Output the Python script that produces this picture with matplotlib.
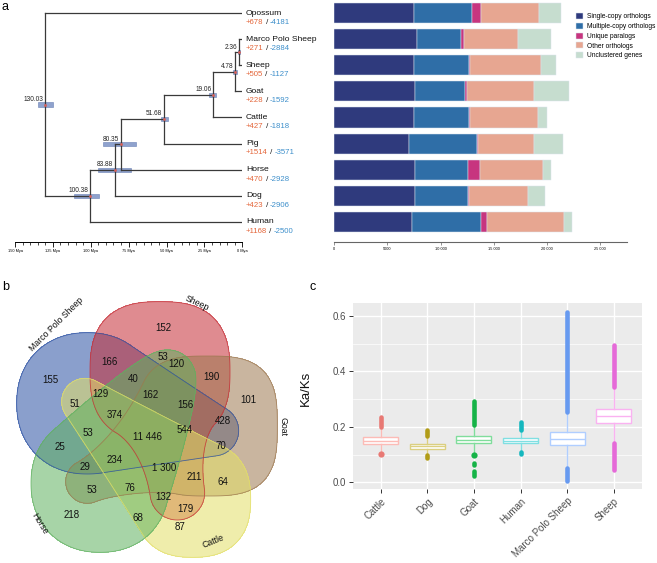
import numpy as np
import matplotlib
matplotlib.use("Agg")
import matplotlib.pyplot as plt
import matplotlib.colors as mcolors
from matplotlib.ticker import MultipleLocator, FixedLocator

plt.rcParams['font.family'] = ['Liberation Sans', 'DejaVu Sans']

# ---------------- data: panel a (tree) ----------------
species = ["Opossum", "Marco Polo Sheep", "Sheep", "Goat", "Cattle", "Pig", "Horse", "Dog", "Human"]
gained = [678, 271, 505, 228, 427, 1514, 470, 423, 1168]
lost = [4181, 2884, 1127, 1592, 1818, 3571, 2928, 2906, 2500]

node_names = ["n1", "n2", "n3", "n4", "n5", "n6", "n7", "n8"]
node_children = [("Marco Polo Sheep", "Sheep"), ("n1", "Goat"), ("n2", "Cattle"), ("n3", "Pig"),
                 ("n4", "Horse"), ("n5", "Dog"), ("n6", "Human"), ("Opossum", "n7")]
node_ages = [2.36, 4.78, 19.06, 51.68, 80.35, 83.88, 100.38, 130.03]
node_hpd_low = [1.5, 3.7, 17.4, 48.8, 70.4, 73.7, 94.6, 124.7]
node_hpd_high = [2.9, 5.9, 21.8, 53.7, 91.7, 95.0, 111.1, 134.6]
time_ticks = [150, 125, 100, 75, 50, 25, 0]

# ---------------- data: panel a (gene families) ----------------
category_names = ["Single-copy orthologs", "Multiple-copy orthologs", "Unique paralogs",
                  "Other orthologs", "Unclustered genes"]
single_copy = [7500, 7810, 7500, 7590, 7530, 7060, 7590, 7590, 7310]
multi_copy = [5460, 4110, 5180, 4740, 5150, 6340, 4960, 4960, 6490]
unique_paralogs = [880, 250, 90, 130, 90, 90, 1160, 90, 530]
other_orthologs = [5430, 5110, 6680, 6300, 6430, 5300, 5930, 5550, 7280]
unclustered = [2070, 3110, 1440, 3360, 780, 2760, 720, 1630, 720]
bar_ticks = [0, 5000, 10000, 15000, 20000, 25000]
bar_tick_labels = ["0", "5000", "10 000", "15 000", "20 000", "25 000"]

# ---------------- data: panel b (Venn) ----------------
venn_sets = ["Marco Polo Sheep", "Sheep", "Goat", "Cattle", "Horse"]
venn_counts = [155, 152, 101, 87, 218, 166, 53, 120, 190, 40, 129, 51, 162, 156, 374,
               428, 544, 11446, 53, 70, 25, 234, 29, 1300, 211, 64, 53, 76, 132, 179, 68]

# ---------------- data: panel c (Ka/Ks) ----------------
box_species = ["Cattle", "Dog", "Goat", "Human", "Marco Polo Sheep", "Sheep"]
box_q1 = [0.138, 0.120, 0.141, 0.141, 0.133, 0.215]
box_med = [0.149, 0.130, 0.154, 0.150, 0.158, 0.240]
box_q3 = [0.162, 0.140, 0.169, 0.161, 0.183, 0.265]
box_whislo = [0.110, 0.100, 0.105, 0.115, 0.060, 0.145]
box_whishi = [0.192, 0.165, 0.200, 0.185, 0.250, 0.338]
outlier_ranges = [[(0.198, 0.234)], [(0.168, 0.189), (0.087, 0.097)],
                  [(0.206, 0.294), (0.064, 0.071), (0.023, 0.040)],
                  [(0.190, 0.217), (0.102, 0.110)],
                  [(0.254, 0.613), (0.004, 0.051)], [(0.343, 0.496), (0.045, 0.141)]]
outlier_points = [[0.101], [], [0.098], [], [], []]

# ---------------- figure ----------------
W, H = 657, 563
fig = plt.figure(figsize=(W / 100, H / 100), dpi=100)


def px_axes(x0, y0, x1, y1):
    return fig.add_axes([x0 / W, 1 - y1 / H, (x1 - x0) / W, (y1 - y0) / H])


ROW0, ROWSTEP, AXB = 13.3, 26.05, 242.3
ylim_rows = ((AXB - ROW0) / ROWSTEP, -ROW0 / ROWSTEP)

# ---- tree ----
ax_t = px_axes(15, 0, 242.3, AXB)
ax_t.set_xlim(150, 0)
ax_t.set_ylim(*ylim_rows)
ypos = {sp: i for i, sp in enumerate(species)}
xpos = {sp: 0.0 for sp in species}
lc = '#3a3a3a'
for name, (ca, cb), age in zip(node_names, node_children, node_ages):
    ax_t.plot([age, age], [ypos[ca], ypos[cb]], color=lc, lw=0.9, zorder=3)
    for ch in (ca, cb):
        ax_t.plot([age, xpos[ch]], [ypos[ch], ypos[ch]], color=lc, lw=0.9, zorder=3)
    ypos[name] = (ypos[ca] + ypos[cb]) / 2
    xpos[name] = age

node_y = [ypos[n] for n in node_names]
ax_t.barh(node_y, np.array(node_hpd_high) - np.array(node_hpd_low), left=node_hpd_low,
          height=0.16, color='#8fa2cd', edgecolor='#6a80b5', lw=0.4, zorder=2)
ax_t.plot(node_ages, node_y, 'o', color='#d9605a', ms=2.0, mew=0, zorder=4)
for age, y in zip(node_ages, node_y):
    ax_t.annotate(f"{age:.2f}", (age, y), xytext=(-1.3, 1.3), textcoords='offset points',
                  ha='right', va='bottom', fontsize=4.7, color='#222222')
for s in ('left', 'right', 'top'):
    ax_t.spines[s].set_visible(False)
ax_t.spines['bottom'].set_linewidth(0.7)
ax_t.set_yticks([])
ax_t.xaxis.set_major_locator(FixedLocator(time_ticks))
ax_t.set_xticklabels([f"{v} Mya" for v in time_ticks])
ax_t.xaxis.set_minor_locator(MultipleLocator(5))
ax_t.tick_params(axis='x', which='major', length=3.5, width=0.6, labelsize=2.8, pad=1.2)
ax_t.tick_params(axis='x', which='minor', length=2, width=0.5)

renderer = fig.canvas.get_renderer()
for i, sp in enumerate(species):
    yrow = ROW0 + ROWSTEP * i
    fig.text(246 / W, 1 - yrow / H, sp, fontsize=6.1, va='center', ha='left', color='#111111')
    x = 246
    for txt, col in ((f"+{gained[i]}", '#e4663a'), (" / ", '#111111'), (f"-{lost[i]}", '#3d8fcb')):
        t = fig.text(x / W, 1 - (yrow + 9.4) / H, txt, fontsize=5.6, va='center', ha='left', color=col)
        bb = t.get_window_extent(renderer=renderer)
        x = bb.x1

# ---- stacked bars ----
ax_b = px_axes(334.3, 0, 626.7, AXB)
ax_b.set_xlim(0, 27500)
ax_b.set_ylim(*ylim_rows)
bar_colors = ['#2f3a7d', '#2f6ea7', '#c7357f', '#e7a691', '#c6ddcf']
left = np.zeros(len(species))
rows = np.arange(len(species))
for vals, col, lab in zip([single_copy, multi_copy, unique_paralogs, other_orthologs, unclustered],
                          bar_colors, category_names):
    ax_b.barh(rows, vals, left=left, height=0.77, color=col, edgecolor='#dbe5ee', lw=0.35, label=lab)
    left = left + np.array(vals)
for s in ('left', 'right', 'top'):
    ax_b.spines[s].set_visible(False)
ax_b.spines['bottom'].set_linewidth(0.8)
ax_b.spines['bottom'].set_color('#666666')
ax_b.set_yticks([])
ax_b.set_xticks(bar_ticks)
ax_b.set_xticklabels(bar_tick_labels)
ax_b.tick_params(axis='x', length=2.2, width=0.5, labelsize=2.8, pad=1.5, color='#666666')
ax_b.legend(loc='upper left', bbox_to_anchor=(576 / W, 1 - 13 / H), bbox_transform=fig.transFigure,
            frameon=False, fontsize=4.8, handlelength=1.05, handleheight=1.05, handletextpad=0.6,
            labelspacing=0.36, borderpad=0, borderaxespad=0)

# ---- Venn (five swept blobs) ----
ax_v = px_axes(0, 270, 330, 563)
ax_v.set_xlim(0, 990)
ax_v.set_ylim(879, 0)
ax_v.axis('off')

gx = np.arange(0, 993, 3.0)
gy = np.arange(0, 882, 3.0)
GX, GY = np.meshgrid(gx, gy)


def sweep_field(S, E, rS, rE, p, nS, nE, m=70):
    s = np.linspace(0, 1, m)
    cx = (1 - s) * S[0] + s * E[0]
    cy = (1 - s) * S[1] + s * E[1]
    r = rE + (rS - rE) * (1 - s) ** p
    nn = nS + (nE - nS) * s
    F = np.full(GX.shape, np.inf)
    for i in range(m):
        d = (np.abs(GX - cx[i]) ** nn[i] + np.abs(GY - cy[i]) ** nn[i]) ** (1 / nn[i])
        F = np.minimum(F, d - r[i])
    return F


blob_params = {
    "Marco Polo Sheep": ((262, 400), (640, 482), 212, 76, 1.0, 2.15, 2.0),
    "Sheep": ((480, 305), (532, 668), 210, 82, 2.0, 2.6, 2.0),
    "Goat": ((622, 468), (262, 635), 210, 65, 1.5, 3.0, 2.0),
    "Cattle": ((578, 688), (255, 395), 174, 70, 1.0, 2.4, 2.0),
    "Horse": ((300, 640), (505, 320), 207, 80, 0.76, 2.15, 2.0),
}
venn_colors = {"Marco Polo Sheep": '#2a50a3', "Sheep": '#c62d35', "Goat": '#9d7850',
               "Cattle": '#e3df67', "Horse": '#5fb15f'}
fields = {sp: sweep_field(*blob_params[sp]) for sp in venn_sets}
for sp in venn_sets:
    ax_v.contourf(GX, GY, fields[sp], levels=[-1e6, 0], colors=[venn_colors[sp]], alpha=0.55)
for sp in venn_sets:
    ax_v.contour(GX, GY, fields[sp], levels=[0], colors=[mcolors.to_rgba(venn_colors[sp], 0.8)],
                 linewidths=0.6)

venn_label_xy = [(150, 330), (490, 175), (745, 390), (540, 770), (215, 735),
                 (330, 275), (490, 262), (530, 283), (635, 320), (400, 328),
                 (300, 373), (225, 403), (450, 375), (555, 405), (345, 435),
                 (668, 452), (555, 480), (442, 500), (265, 490), (663, 528),
                 (180, 530), (345, 570), (255, 590), (493, 595), (583, 620), (668, 637),
                 (275, 660), (390, 655), (490, 680), (555, 716), (415, 745)]
for cnt, (x, y) in zip(venn_counts, venn_label_xy):
    lab = f"{cnt:,}".replace(",", " ")
    ax_v.text(x, y, lab, ha='center', va='center', fontsize=7, color='#111111')

venn_name_xy = [(170, 163, 45), (592, 100, -25), (848, 470, -90), (640, 815, 22), (118, 760, -58)]
for sp, (x, y, r) in zip(venn_sets, venn_name_xy):
    ax_v.text(x, y, sp, ha='center', va='center', rotation=r, fontsize=6.3, color='#111111',
              rotation_mode='anchor')

# ---- Ka/Ks boxplot ----
ax_c = px_axes(352.7, 303, 641.7, 489)
ax_c.set_facecolor('#EBEBEB')
hues = ['#F8766D', '#B79F00', '#00BA38', '#00BFC4', '#619CFF', '#F564E3']
for i in range(len(box_species)):
    hue = np.array(mcolors.to_rgb(hues[i]))
    light = tuple(hue * 0.5 + 0.5)
    st = dict(med=box_med[i], q1=box_q1[i], q3=box_q3[i], whislo=box_whislo[i],
              whishi=box_whishi[i], fliers=[], label=box_species[i])
    ax_c.bxp([st], positions=[i + 1], widths=0.75, patch_artist=True, showcaps=False,
             manage_ticks=False,
             boxprops=dict(facecolor='white', edgecolor=light, lw=1.0),
             whiskerprops=dict(color=light, lw=1.0),
             medianprops=dict(color=light, lw=1.0), zorder=3)
    dot = tuple(hue * 0.85 + 0.15 * np.array([0.55, 0.55, 0.6]))
    for lo, hi in outlier_ranges[i]:
        ax_c.plot([i + 1, i + 1], [lo, hi], color=dot, lw=3.3, solid_capstyle='round', zorder=4)
    if outlier_points[i]:
        ax_c.plot([i + 1] * len(outlier_points[i]), outlier_points[i], 'o', color=dot, ms=4.5,
                  mew=0, zorder=4)

ax_c.set_xlim(0.4, 6.6)
ax_c.set_ylim(-0.024, 0.647)
ax_c.set_xticks(range(1, 7))
ax_c.set_xticklabels(box_species, rotation=45, ha='right', rotation_mode='anchor')
ax_c.set_yticks([0.0, 0.2, 0.4, 0.6])
ax_c.set_yticklabels(["0.0", "0.2", "0.4", "0.6"])
ax_c.yaxis.set_minor_locator(FixedLocator([0.1, 0.3, 0.5]))
ax_c.grid(which='major', color='white', lw=1.0)
ax_c.grid(which='minor', axis='y', color='white', lw=0.5)
ax_c.set_axisbelow(True)
for s in ax_c.spines.values():
    s.set_visible(False)
ax_c.tick_params(which='major', colors='#333333', length=3, width=0.7, labelsize=7,
                 labelcolor='#4D4D4D', pad=2)
ax_c.tick_params(which='minor', length=0)
ax_c.set_ylabel("Ka/Ks", fontsize=9.5, color='#111111')
ax_c.yaxis.set_label_coords(-0.141, 0.543)

fig.text(2 / W, 1 - 1 / H, "a", fontsize=9, va='top', ha='left')
fig.text(2 / W, 1 - 281 / H, "b", fontsize=9, va='top', ha='left')
fig.text(309 / W, 1 - 281 / H, "c", fontsize=9, va='top', ha='left')

fig.savefig("out.png", dpi=100)
